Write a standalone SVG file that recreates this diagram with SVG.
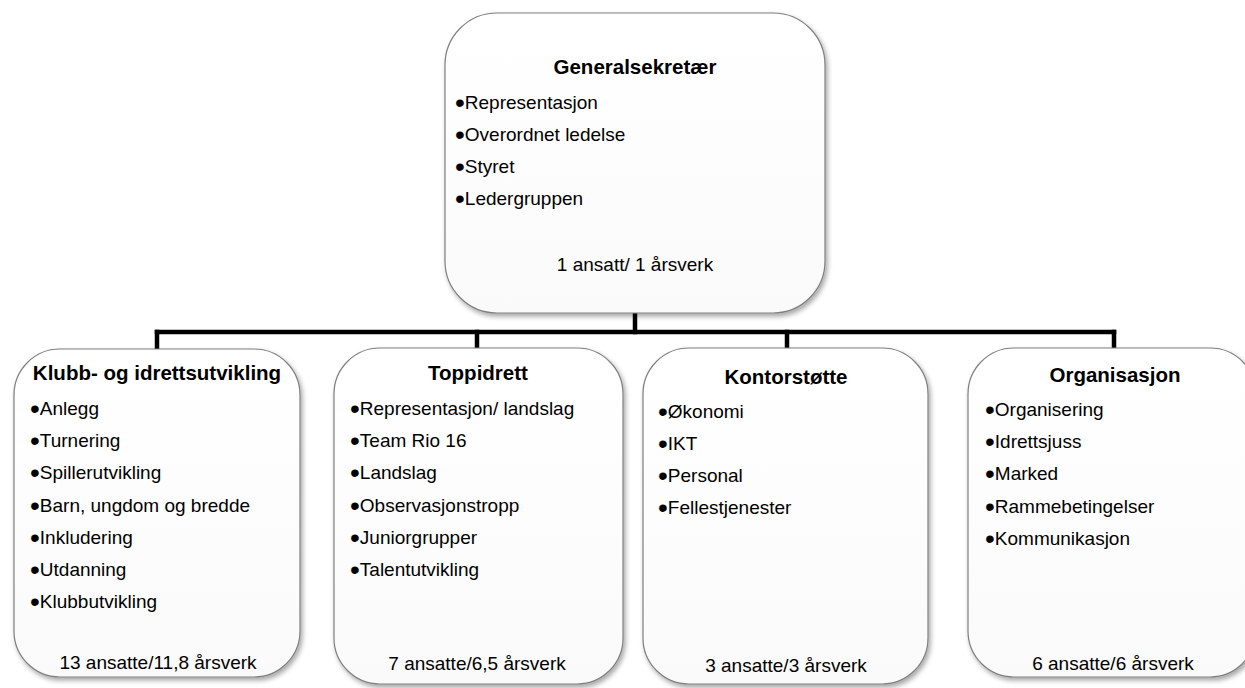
<svg xmlns="http://www.w3.org/2000/svg" width="1245" height="688" viewBox="0 0 1245 688">
  <defs>
    <filter id="shadow" x="-10%" y="-10%" width="130%" height="130%">
      <feDropShadow dx="2" dy="3" stdDeviation="2.5" flood-color="#000" flood-opacity="0.35"/>
    </filter>
    <linearGradient id="fill" x1="0" y1="0" x2="0" y2="1">
      <stop offset="0" stop-color="#ffffff"/>
      <stop offset="1" stop-color="#fafafa"/>
    </linearGradient>
  </defs>
  <style>
    .box { fill: url(#fill); stroke: #7f7f7f; stroke-width: 1.2; filter: url(#shadow); }
    .title { font-family: "Liberation Sans", Arial, sans-serif; font-weight: bold; font-size: 20.5px; fill: #000; text-anchor: middle; }
    .item { font-family: "Liberation Sans", Arial, sans-serif; font-size: 19px; fill: #000; }
    .foot { font-family: "Liberation Sans", Arial, sans-serif; font-size: 19px; fill: #000; text-anchor: middle; }
    .b { font-size: 28px; }
    .conn { fill: none; stroke: #000; stroke-width: 4.5; stroke-linecap: square; }
  </style>
  <rect width="1245" height="688" fill="#ffffff"/>

  <g id="connectors">
    <path class="conn" d="M635 314 V332"/>
    <path class="conn" d="M157 332 H1114"/>
    <path class="conn" d="M157 332 V348"/>
    <path class="conn" d="M477 332 V348"/>
    <path class="conn" d="M787 332 V348"/>
    <path class="conn" d="M1114 332 V348"/>
  </g>

  <g id="node-generalsekretaer">
    <rect class="box" x="445" y="13" width="380" height="300" rx="52" ry="52"/>
    <text class="title" x="635" y="74">Generalsekretær</text>
    <text class="item" x="455" y="109"><tspan class="b" dy="2.5">•</tspan><tspan dy="-2.5">Representasjon</tspan></text>
    <text class="item" x="455" y="141"><tspan class="b" dy="2.5">•</tspan><tspan dy="-2.5">Overordnet ledelse</tspan></text>
    <text class="item" x="455" y="173"><tspan class="b" dy="2.5">•</tspan><tspan dy="-2.5">Styret</tspan></text>
    <text class="item" x="455" y="205"><tspan class="b" dy="2.5">•</tspan><tspan dy="-2.5">Ledergruppen</tspan></text>
    <text class="foot" x="635" y="271">1 ansatt/ 1 årsverk</text>
  </g>

  <g id="node-klubb">
    <rect class="box" x="14" y="349" width="286" height="328" rx="46" ry="46"/>
    <text class="title" x="157" y="380">Klubb- og idrettsutvikling</text>
    <text class="item" x="30" y="415"><tspan class="b" dy="2.5">•</tspan><tspan dy="-2.5">Anlegg</tspan></text>
    <text class="item" x="30" y="447"><tspan class="b" dy="2.5">•</tspan><tspan dy="-2.5">Turnering</tspan></text>
    <text class="item" x="30" y="479"><tspan class="b" dy="2.5">•</tspan><tspan dy="-2.5">Spillerutvikling</tspan></text>
    <text class="item" x="30" y="512"><tspan class="b" dy="2.5">•</tspan><tspan dy="-2.5">Barn, ungdom og bredde</tspan></text>
    <text class="item" x="30" y="544"><tspan class="b" dy="2.5">•</tspan><tspan dy="-2.5">Inkludering</tspan></text>
    <text class="item" x="30" y="576"><tspan class="b" dy="2.5">•</tspan><tspan dy="-2.5">Utdanning</tspan></text>
    <text class="item" x="30" y="608"><tspan class="b" dy="2.5">•</tspan><tspan dy="-2.5">Klubbutvikling</tspan></text>
    <text class="foot" x="158" y="669">13 ansatte/11,8 årsverk</text>
  </g>

  <g id="node-toppidrett">
    <rect class="box" x="334" y="348" width="289" height="336" rx="46" ry="46"/>
    <text class="title" x="478" y="380">Toppidrett</text>
    <text class="item" x="350" y="415"><tspan class="b" dy="2.5">•</tspan><tspan dy="-2.5">Representasjon/ landslag</tspan></text>
    <text class="item" x="350" y="447"><tspan class="b" dy="2.5">•</tspan><tspan dy="-2.5">Team Rio 16</tspan></text>
    <text class="item" x="350" y="479"><tspan class="b" dy="2.5">•</tspan><tspan dy="-2.5">Landslag</tspan></text>
    <text class="item" x="350" y="512"><tspan class="b" dy="2.5">•</tspan><tspan dy="-2.5">Observasjonstropp</tspan></text>
    <text class="item" x="350" y="544"><tspan class="b" dy="2.5">•</tspan><tspan dy="-2.5">Juniorgrupper</tspan></text>
    <text class="item" x="350" y="576"><tspan class="b" dy="2.5">•</tspan><tspan dy="-2.5">Talentutvikling</tspan></text>
    <text class="foot" x="477" y="670">7 ansatte/6,5 årsverk</text>
  </g>

  <g id="node-kontorstotte">
    <rect class="box" x="643" y="348" width="285" height="336" rx="46" ry="46"/>
    <text class="title" x="786" y="384">Kontorstøtte</text>
    <text class="item" x="658" y="418"><tspan class="b" dy="2.5">•</tspan><tspan dy="-2.5">Økonomi</tspan></text>
    <text class="item" x="658" y="450"><tspan class="b" dy="2.5">•</tspan><tspan dy="-2.5">IKT</tspan></text>
    <text class="item" x="658" y="482"><tspan class="b" dy="2.5">•</tspan><tspan dy="-2.5">Personal</tspan></text>
    <text class="item" x="658" y="514"><tspan class="b" dy="2.5">•</tspan><tspan dy="-2.5">Fellestjenester</tspan></text>
    <text class="foot" x="786" y="672">3 ansatte/3 årsverk</text>
  </g>

  <g id="node-organisasjon">
    <rect class="box" x="968" y="348" width="288" height="329" rx="46" ry="46"/>
    <text class="title" x="1115" y="382">Organisasjon</text>
    <text class="item" x="985" y="416"><tspan class="b" dy="2.5">•</tspan><tspan dy="-2.5">Organisering</tspan></text>
    <text class="item" x="985" y="448"><tspan class="b" dy="2.5">•</tspan><tspan dy="-2.5">Idrettsjuss</tspan></text>
    <text class="item" x="985" y="480"><tspan class="b" dy="2.5">•</tspan><tspan dy="-2.5">Marked</tspan></text>
    <text class="item" x="985" y="513"><tspan class="b" dy="2.5">•</tspan><tspan dy="-2.5">Rammebetingelser</tspan></text>
    <text class="item" x="985" y="545"><tspan class="b" dy="2.5">•</tspan><tspan dy="-2.5">Kommunikasjon</tspan></text>
    <text class="foot" x="1113" y="670">6 ansatte/6 årsverk</text>
  </g>
</svg>
